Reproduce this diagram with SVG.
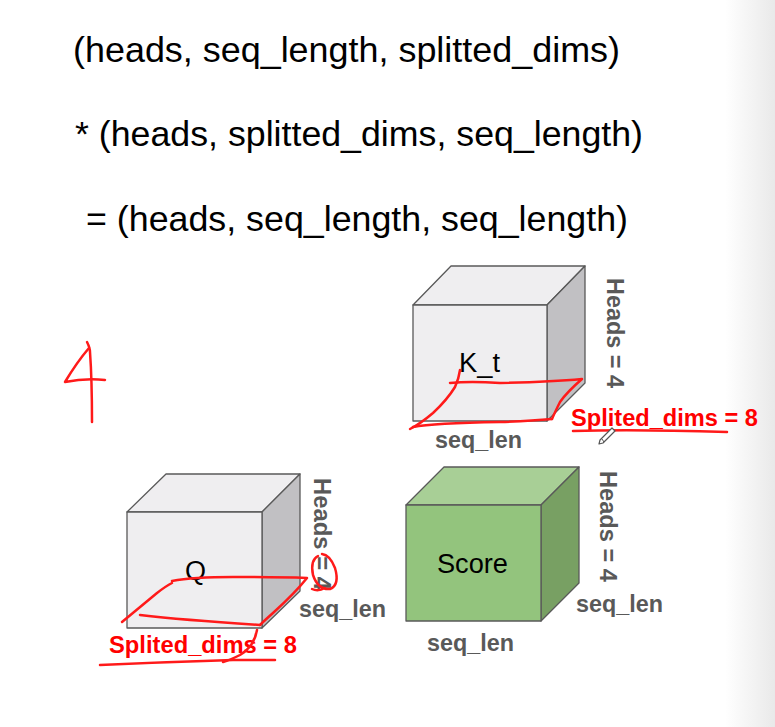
<svg xmlns="http://www.w3.org/2000/svg" width="775" height="727" viewBox="0 0 775 727">
<defs>
<linearGradient id="edge" x1="0" y1="0" x2="1" y2="0">
<stop offset="0" stop-color="#ffffff"/>
<stop offset="1" stop-color="#e9e9e9"/>
</linearGradient>
<style>
.title{font-family:"Liberation Sans",Arial,sans-serif;font-size:35px;fill:#000}
.lbl{font-family:"Liberation Sans",Arial,sans-serif;font-size:24px;font-weight:bold;fill:#595959}
.red{font-family:"Liberation Sans",Arial,sans-serif;font-size:23px;font-weight:bold;fill:#ff0000}
.name{font-family:"Liberation Sans",Arial,sans-serif;font-size:27px;fill:#000}
.edge{stroke:#595959;stroke-width:1.3;stroke-linejoin:round}
.gf{fill:#efeef0}.gt{fill:#efeef0}.gs{fill:#c1c0c3}
.sf{fill:#93c47d}.st{fill:#a8cf96}.ss{fill:#78a063}
.ink{fill:none;stroke:#ff1a1a;stroke-width:2.5;stroke-linecap:round;stroke-linejoin:round}
</style>
</defs>
<rect width="775" height="727" fill="#ffffff"/>
<rect x="725" y="0" width="50" height="727" fill="url(#edge)"/>

<g id="formula">
<text class="title" x="73" y="62" textLength="547" lengthAdjust="spacingAndGlyphs">(heads, seq_length, splitted_dims)</text>
<text class="title" x="75" y="146" textLength="568" lengthAdjust="spacingAndGlyphs">* (heads, splitted_dims, seq_length)</text>
<text class="title" x="86" y="231" textLength="542" lengthAdjust="spacingAndGlyphs">= (heads, seq_length, seq_length)</text>
</g>

<g id="cube-kt">
<polygon class="gt edge" points="413,305 451,266 585,266 547,305"/>
<polygon class="gs edge" points="547,305 585,266 585,383 547,421"/>
<rect class="gf edge" x="413" y="305" width="134" height="116"/>
<text class="name" x="459" y="372" textLength="41" lengthAdjust="spacingAndGlyphs">K_t</text>
<text class="lbl" transform="translate(607,278) rotate(90)" textLength="110" lengthAdjust="spacingAndGlyphs">Heads = 4</text>
<text class="lbl" x="435" y="448" textLength="87" lengthAdjust="spacingAndGlyphs">seq_len</text>
<text class="red" x="571" y="426" textLength="187" lengthAdjust="spacingAndGlyphs">Splited_dims = 8</text>
</g>

<g id="cube-q">
<polygon class="gt edge" points="127,512 166,474 300,474 262,512"/>
<polygon class="gs edge" points="262,512 300,474 300,591 262,628"/>
<rect class="gf edge" x="127" y="512" width="135" height="116"/>
<text class="name" x="185" y="580">Q</text>
<text class="lbl" transform="translate(314,478) rotate(90)" textLength="112" lengthAdjust="spacingAndGlyphs">Heads = 4</text>
<text class="lbl" x="299" y="617" textLength="87" lengthAdjust="spacingAndGlyphs">seq_len</text>
<text class="red" x="109" y="653" textLength="188" lengthAdjust="spacingAndGlyphs">Splited_dims = 8</text>
</g>

<g id="cube-score">
<polygon class="st edge" points="406,505 444,467 579,467 541,505"/>
<polygon class="ss edge" points="541,505 579,467 579,583 541,621"/>
<rect class="sf edge" x="406" y="505" width="135" height="116"/>
<text class="name" x="437" y="573" textLength="71" lengthAdjust="spacingAndGlyphs">Score</text>
<text class="lbl" transform="translate(600,471) rotate(90)" textLength="111" lengthAdjust="spacingAndGlyphs">Heads = 4</text>
<text class="lbl" x="576" y="612" textLength="87" lengthAdjust="spacingAndGlyphs">seq_len</text>
<text class="lbl" x="427" y="651" textLength="87" lengthAdjust="spacingAndGlyphs">seq_len</text>
</g>

<g id="annotations">
<path class="ink" d="M87,342 Q90,348 90,352 Q92,380 92,422"/>
<path class="ink" d="M89,348 Q77,362 65,382 Q85,378 105,380"/>
<path class="ink" d="M410,429 Q420,424 433,413 Q447,400 455,387 Q459,378 460,370"/>
<path class="ink" d="M450,383 Q470,381 500,383 Q550,382 582,379 Q567,392 560,402 Q555,412 552,419"/>
<path class="ink" d="M413,427 Q433,423 500,422 Q530,421 552,419"/>
<path class="ink" d="M573,431 Q633,429 727,432"/>
<path class="ink" d="M122,622 Q140,607 157,593 Q166,586 172,583"/>
<path class="ink" d="M172,581 Q193,577 233,577 Q280,577 307,578 Q295,593 273,613 Q265,620 260,625"/>
<path class="ink" d="M140,615 Q183,620 260,625"/>
<path class="ink" d="M257,630 Q254,647 240,655 Q230,660 223,662"/>
<path class="ink" d="M100,665 Q167,662 233,660 Q260,660 275,660"/>
<path class="ink" d="M318,556 Q310,560 313,575 Q318,590 330,589 Q340,585 335,568 Q330,555 322,554 M325,588 Q318,592 312,589"/>
</g>

<g id="pencil">
<polygon points="612,428 615,431 603,443 599,444 600,440" fill="#ffffff" stroke="#555555" stroke-width="1.2" stroke-linejoin="round"/>
<line x1="602" y1="439" x2="604" y2="442" stroke="#555555" stroke-width="1"/>
</g>
</svg>
